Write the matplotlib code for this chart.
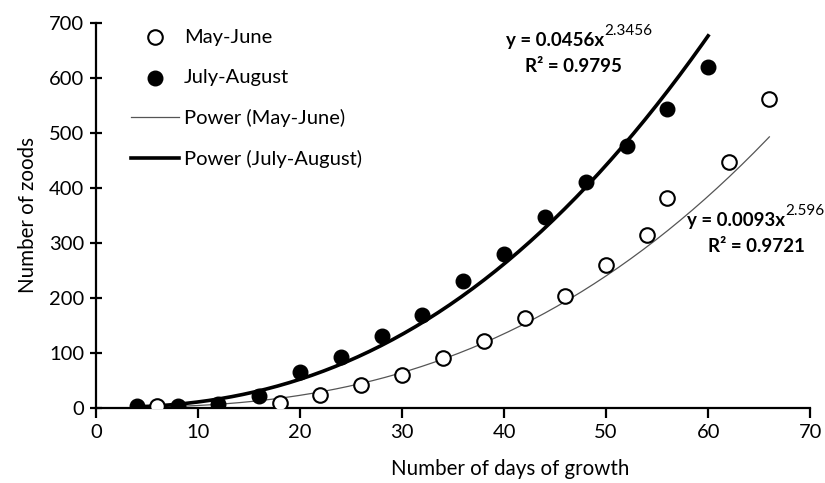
import matplotlib
matplotlib.use("Agg")
import matplotlib.pyplot as plt
import numpy as np

plt.rcParams['font.family'] = ['Lato', 'DejaVu Sans']

# Data
may_june_x = [6, 18, 22, 26, 30, 34, 38, 42, 46, 50, 54, 56, 62, 66]
may_june_y = [2, 9, 22, 41, 59, 90, 121, 162, 203, 259, 313, 381, 446, 561]
july_aug_x = [4, 8, 12, 16, 20, 24, 28, 32, 36, 40, 44, 48, 52, 56, 60]
july_aug_y = [2, 3, 7, 21, 65, 91, 130, 169, 230, 279, 346, 410, 475, 543, 619]

# Power-fit coefficients shown on the chart
mj_a, mj_b = 0.0093, 2.596
ja_a, ja_b = 0.0456, 2.3456

xticks = [0, 10, 20, 30, 40, 50, 60, 70]
yticks = [0, 100, 200, 300, 400, 500, 600, 700]

fig = plt.figure(figsize=(8.25, 4.83), dpi=100)
ax = fig.add_axes([0.1164, 0.1563, 0.8656, 0.7971])

ax.scatter(may_june_x, may_june_y, s=110, facecolor='white', edgecolor='black',
           linewidth=1.5, zorder=3, label='May-June')
ax.scatter(july_aug_x, july_aug_y, s=110, facecolor='black', edgecolor='black',
           linewidth=1.0, zorder=4, label='July-August')

xm = np.linspace(min(may_june_x), max(may_june_x), 200)
ax.plot(xm, mj_a * xm ** mj_b, color='#555555', lw=0.9, zorder=2, label='Power (May-June)')
xj = np.linspace(min(july_aug_x), max(july_aug_x), 200)
ax.plot(xj, ja_a * xj ** ja_b, color='black', lw=2.6, zorder=2, label='Power (July-August)')

ax.set_xlim(0, 70)
ax.set_ylim(0, 700)
ax.set_xticks(xticks)
ax.set_yticks(yticks)
for s in ['top', 'right']:
    ax.spines[s].set_visible(False)
for s in ['left', 'bottom']:
    ax.spines[s].set_linewidth(1.6)
ax.tick_params(axis='x', direction='out', length=7, width=1.6, labelsize=14.5, pad=5)
ax.tick_params(axis='y', direction='inout', length=9, width=1.6, labelsize=14.5, pad=4)
ax.spines['left'].set_zorder(5)

ax.set_xlabel('Number of days of growth', fontsize=14.8)
ax.xaxis.set_label_coords((510 - 96) / 714, -0.135)
ax.set_ylabel('Number of zoods', fontsize=14.8, labelpad=8)

def equation(x0, y0, a, b, r2, r2x):
    # x0, y0: left / center of main text in axes fraction
    t = ax.text(x0, y0, f'y = {a}x', transform=ax.transAxes, ha='left', va='center',
                fontsize=13.5, fontweight='bold')
    ax.annotate(b, xy=(1.0, 0.6), xycoords=t, ha='left', va='bottom',
                fontsize=11, annotation_clip=False)
    ax.text(r2x, y0 - 0.068, f'R² = {r2}', transform=ax.transAxes, ha='center',
            va='center', fontsize=13.5, fontweight='bold')

equation((506 - 96) / 714, (407.5 - 40) / 385, '0.0456', '2.3456', '0.9795', (573 - 96) / 714)
equation((687 - 96) / 714, (407.5 - 220) / 385, '0.0093', '2.596', '0.9721', (756 - 96) / 714)

leg = ax.legend(loc='upper left', bbox_to_anchor=(0.037, 1.005), frameon=False,
                fontsize=14.5, labelspacing=1.15, handlelength=2.4, handletextpad=0.25,
                borderaxespad=0)

fig.savefig('out.png', dpi=100)
